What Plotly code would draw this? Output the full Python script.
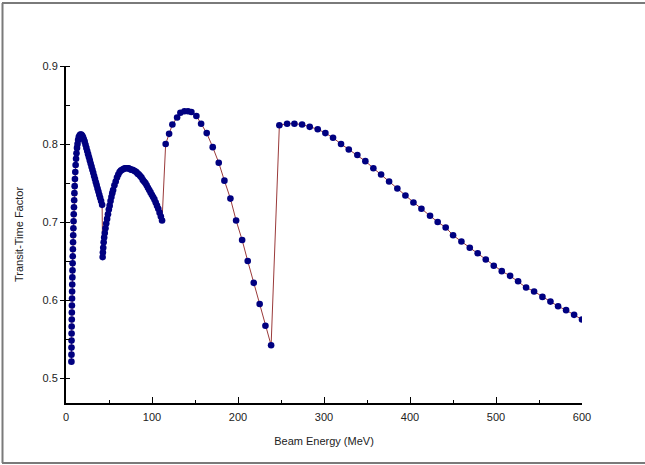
import plotly.graph_objects as go

# Segment 1
E1 = [6.3, 6.35, 6.4, 6.45, 6.5, 6.6, 6.7, 6.8, 6.9, 7.0, 7.1, 7.25, 7.4, 7.55, 7.7,
      7.85, 8.0, 8.2, 8.4, 8.6, 8.8, 9.0, 9.25, 9.5, 9.8, 10.1, 10.4, 10.8, 11.2, 11.7,
      12.2, 12.8, 13.4, 14.1, 14.9, 15.8, 16.7, 17.7, 18.7, 19.7, 20.7, 21.7, 22.7, 23.7,
      24.7, 25.7, 26.7, 27.7, 28.7, 29.7, 30.7, 31.7, 32.7, 33.7, 34.7, 35.7, 36.7, 37.7,
      38.7, 39.7, 40.8, 42.0]
T1 = [0.521, 0.530, 0.539, 0.548, 0.557, 0.566, 0.575, 0.584, 0.593, 0.602, 0.611, 0.620,
      0.629, 0.638, 0.647, 0.656, 0.665, 0.674, 0.683, 0.692, 0.701, 0.710, 0.719, 0.728,
      0.737, 0.746, 0.755, 0.764, 0.773, 0.781, 0.788, 0.795, 0.800, 0.805, 0.809, 0.811,
      0.812, 0.812, 0.811, 0.809, 0.806, 0.803, 0.799, 0.795, 0.791, 0.787, 0.783, 0.779,
      0.775, 0.771, 0.767, 0.763, 0.759, 0.755, 0.751, 0.747, 0.743, 0.739, 0.735, 0.731,
      0.727, 0.722]

# Segment 2
E2 = [42.6, 42.9, 43.3, 43.8, 44.4, 45.1, 45.9, 46.8, 47.8, 48.8, 49.8, 50.8, 51.8, 52.8,
      53.8, 54.8, 56.3, 57.8, 59.3, 60.8, 62.3, 63.8, 65.3, 66.8, 68.3, 69.8, 71.3, 72.8,
      74.3, 75.8, 77.3, 78.8, 80.3, 81.8, 83.3, 84.8, 86.3, 87.8, 89.3, 90.8, 92.3, 93.8,
      95.3, 96.8, 98.3, 99.8, 101.3, 102.8, 104.3, 105.8, 107.3, 108.8, 110.3, 111.7]
T2 = [0.655, 0.661, 0.667, 0.674, 0.680, 0.686, 0.692, 0.698, 0.704, 0.710, 0.716, 0.721,
      0.727, 0.732, 0.737, 0.741, 0.747, 0.752, 0.757, 0.761, 0.764, 0.766, 0.767, 0.768,
      0.769, 0.769, 0.769, 0.769, 0.768, 0.767, 0.767, 0.766, 0.765, 0.764, 0.762, 0.761,
      0.759, 0.757, 0.754, 0.752, 0.750, 0.747, 0.744, 0.741, 0.738, 0.735, 0.732, 0.729,
      0.725, 0.721, 0.717, 0.712, 0.707, 0.702]

# Segment 3
E3 = [115.9, 119.9, 123.7, 129.2, 133.0, 137.7, 141.9, 145.8, 151.6, 157.1, 163.6, 170.6,
      177.6, 184.2, 191.2, 197.8, 204.8, 211.3, 218.3, 225.2, 231.9, 238.5]
T3 = [0.800, 0.813, 0.825, 0.834, 0.840, 0.842, 0.842, 0.841, 0.836, 0.826, 0.814, 0.796,
      0.776, 0.753, 0.730, 0.702, 0.677, 0.650, 0.622, 0.595, 0.567, 0.542]

# Segment 4
E4 = [248.1, 257.1, 265.6, 274.5, 283.4, 292.7, 301.6, 310.5, 319.8, 328.8, 338.8, 348.1,
      357.4, 366.4, 375.7, 385.3, 394.7, 404.0, 413.3, 423.3, 432.2, 441.5, 450.1, 459.8,
      469.5, 478.7, 488.1, 497.4, 506.7, 516.4, 525.7, 535.0, 544.3, 554.0, 563.3, 572.2,
      581.5, 590.8, 600.0]
T4 = [0.824, 0.826, 0.826, 0.825, 0.822, 0.819, 0.814, 0.808, 0.800, 0.793, 0.786, 0.778,
      0.769, 0.761, 0.752, 0.743, 0.734, 0.725, 0.717, 0.708, 0.700, 0.693, 0.683, 0.675,
      0.667, 0.660, 0.652, 0.644, 0.637, 0.631, 0.624, 0.616, 0.611, 0.604, 0.598, 0.592,
      0.587, 0.581, 0.575]

energy = E1 + E2 + E3 + E4
ttf = T1 + T2 + T3 + T4

W, H = 645, 465
ML, MR, MT, MB = 66, 63, 66, 62

fig = go.Figure()
fig.add_trace(go.Scatter(
    x=energy, y=ttf, mode="lines+markers",
    line=dict(color="#9a3a3a", width=1),
    marker=dict(color="#000080", size=6.6, symbol="circle"),
    showlegend=False, hoverinfo="x+y"))

font = dict(family="Liberation Sans, Arial, sans-serif", size=11, color="#222222")

fig.update_layout(
    width=W, height=H,
    margin=dict(l=ML, r=MR, t=MT, b=MB),
    paper_bgcolor="white", plot_bgcolor="white",
    font=font,
    xaxis=dict(
        range=[0, 600], tickmode="array", tickvals=[0, 100, 200, 300, 400, 500, 600],
        ticktext=["0", "100", "200", "300", "400", "500", "600"],
        showgrid=False, zeroline=False, showline=True, linecolor="black", linewidth=2,
        ticks="inside", ticklen=6, tickcolor="black", tickwidth=1,
        ticklabelstandoff=3,
        minor=dict(ticks="inside", ticklen=3, tickcolor="black", dtick=50, showgrid=False),
        title=dict(text="Beam Energy (MeV)", standoff=15, font=font),
        tickfont=font,
    ),
    yaxis=dict(
        range=[0.468, 0.9], tickmode="array", tickvals=[0.5, 0.6, 0.7, 0.8, 0.9],
        ticktext=["0.5", "0.6", "0.7", "0.8", "0.9"],
        showgrid=False, zeroline=False, showline=True, linecolor="black", linewidth=2,
        ticks="outside", ticklen=4, tickcolor="black", tickwidth=1,
        minor=dict(ticks="inside", ticklen=4, tickcolor="black", dtick=0.05,
                   tick0=0.5, showgrid=False),
        title=dict(text="Transit-Time Factor", standoff=17, font=font),
        tickfont=font,
    ),
)

pw = W - ML - MR
ph = H - MT - MB

def px2paper_x(px):
    return (px - ML) / pw

def py2paper_y(py):
    return (H - MB - py) / ph

frame = dict(color="#7a7a7a", width=2)
# top, left, bottom frame lines
fig.add_shape(type="line", xref="paper", yref="paper",
              x0=px2paper_x(2), x1=px2paper_x(645), y0=py2paper_y(3), y1=py2paper_y(3), line=frame)
fig.add_shape(type="line", xref="paper", yref="paper",
              x0=px2paper_x(2.5), x1=px2paper_x(2.5), y0=py2paper_y(3), y1=py2paper_y(463), line=frame)
fig.add_shape(type="line", xref="paper", yref="paper",
              x0=px2paper_x(2), x1=px2paper_x(645), y0=py2paper_y(463), y1=py2paper_y(463), line=frame)

fig.write_html("out.html")
